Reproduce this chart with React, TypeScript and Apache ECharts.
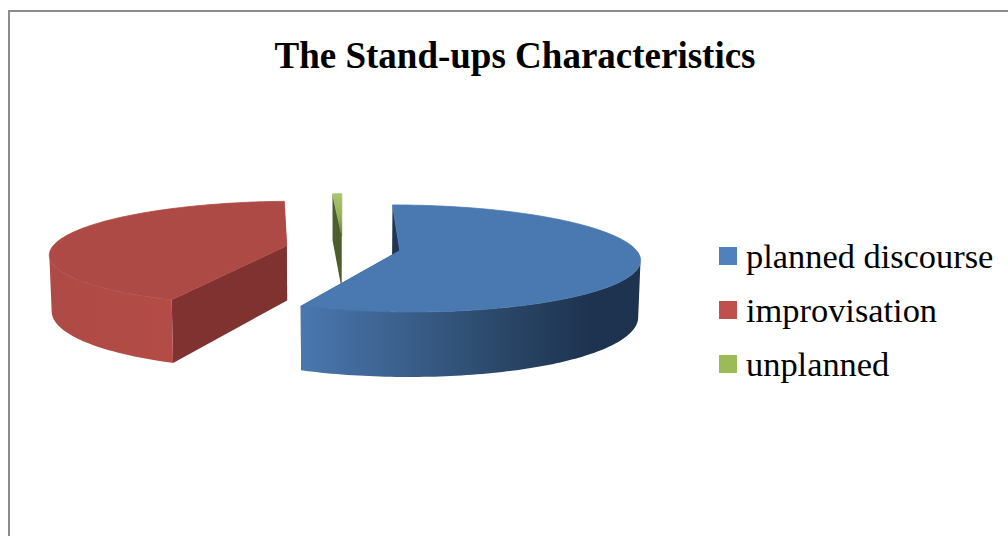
import React, { useEffect, useRef } from "react";
import * as echarts from "echarts";

const chartTitle = "The Stand-ups Characteristics";
const sliceNames = ["planned discourse", "improvisation", "unplanned"];
const sliceValues = [56.45, 42.8, 0.75];
const legendColors = ["#4F81BD", "#C0504D", "#9BBB59"];
const sliceDepthOrder = [3, 2, 1];

// Face colours per slice: top, cut wall, rim gradient stops and rim gradient x-range.
const topFills: any[] = ["#4A78B0", "#AE4A45", null];
const wallFills = ["#1F3550", "#803230", "#4D5D2B"];
const rimStops = [
  [
    [0, "#4A78B0"],
    [0.35, "#3B608C"],
    [0.7, "#2A4768"],
    [1, "#1E3350"],
  ],
  [
    [0, "#AE4A45"],
    [1, "#B34C47"],
  ],
  [
    [0, "#4D5D2B"],
    [1, "#4D5D2B"],
  ],
];
const rimRanges = [
  [298, 590],
  [50, 168],
  [332, 343],
];

// Perspective tilted-disc projection parameters.
const CX = 343;
const CY = 248;
const RX = 235;
const RY = 51.6;
const PERSPECTIVE = 0.1466;
const EXPLODE = 0.245;
const THICKNESS = 55;
const BOTTOM_SHRINK = 0.992;

const total = sliceValues.reduce((a, b) => a + b, 0);

function project(x: number, z: number, bottom: boolean) {
  const s = 1 / (1 - PERSPECTIVE * z);
  const shrink = bottom ? BOTTOM_SHRINK : 1;
  const sx = CX + RX * x * s * shrink;
  const sy = CY + RY * z * s + (bottom ? THICKNESS * s : 0);
  return [sx, sy];
}

function linear(x0: number, x1: number, y0: number, y1: number, stops: any[]) {
  return {
    type: "linear",
    global: true,
    x: x0,
    y: y0,
    x2: x1,
    y2: y1,
    colorStops: stops.map(([offset, color]) => ({ offset, color })),
  };
}

function renderSlice(index: number) {
  return (_params: any, api: any) => {
    const value = api.value(0);
    const before = sliceValues.slice(0, index).reduce((a, b) => a + b, 0);
    const start = (before / total) * Math.PI * 2;
    const end = start + (value / total) * Math.PI * 2;
    const mid = (start + end) / 2;
    const ox = EXPLODE * Math.sin(mid);
    const oz = -EXPLODE * Math.cos(mid);

    const rimPoint = (theta: number, bottom: boolean) =>
      project(ox + Math.sin(theta), oz - Math.cos(theta), bottom);
    const apex = (bottom: boolean) => project(ox, oz, bottom);

    const arc = (from: number, to: number, bottom: boolean) => {
      const steps = Math.max(4, Math.ceil((to - from) / 0.02));
      const pts: number[][] = [];
      for (let i = 0; i <= steps; i++) {
        pts.push(rimPoint(from + ((to - from) * i) / steps, bottom));
      }
      return pts;
    };

    // Silhouette angles of the disc: the rim is only seen between them, on the near side.
    let thetaRight = 0;
    let thetaLeft = 0;
    let maxX = -Infinity;
    let minX = Infinity;
    for (let i = 0; i < 720; i++) {
      const t = (i / 720) * Math.PI * 2;
      const [sx] = rimPoint(t, false);
      if (sx > maxX) {
        maxX = sx;
        thetaRight = t;
      }
      if (sx < minX) {
        minX = sx;
        thetaLeft = t;
      }
    }
    const rimFrom = Math.max(start, thetaRight);
    const rimTo = Math.min(end, thetaLeft);

    const wall = (theta: number) => ({
      type: "polygon",
      shape: {
        points: [apex(false), rimPoint(theta, false), rimPoint(theta, true), apex(true)],
      },
      style: { fill: wallFills[index] },
    });

    const children: any[] = [wall(start), wall(end)];

    if (rimTo > rimFrom) {
      const [gx0, gx1] = rimRanges[index];
      children.push({
        type: "polygon",
        shape: {
          points: [...arc(rimFrom, rimTo, false), ...arc(rimFrom, rimTo, true).reverse()],
        },
        style: { fill: linear(gx0, gx1, 0, 0, rimStops[index]) },
      });
    }

    const topFill =
      topFills[index] ??
      linear(0, 0, 194, 236, [
        [0, "#A9C86C"],
        [0.6, "#8FAD52"],
        [1, "#5F7534"],
      ]);
    // The hairline in the face's own colour closes the seam against the rim and walls.
    children.push({
      type: "polygon",
      shape: { points: [apex(false), ...arc(start, end, false)] },
      style: { fill: topFill, stroke: topFill, lineWidth: 0.8 },
    });

    return { type: "group", children };
  };
}

export default function App() {
  const ref = useRef<HTMLDivElement>(null);

  useEffect(() => {
    document.body.style.margin = "0";
    document.body.style.background = "#ffffff";
    const chart = echarts.init(ref.current!, undefined, { renderer: "svg" });
    chart.setOption({
      animation: false,
      backgroundColor: "#ffffff",
      color: legendColors,
      title: {
        text: chartTitle,
        left: 510,
        top: 32,
        textAlign: "center",
        textStyle: {
          fontFamily: "Liberation Serif",
          fontSize: 37,
          fontWeight: "bold",
          color: "#000000",
        },
      },
      legend: {
        orient: "vertical",
        left: 714,
        top: 234,
        itemWidth: 18,
        itemHeight: 18,
        itemGap: 20,
        icon: "rect",
        data: sliceNames,
        selectedMode: false,
        textStyle: {
          fontFamily: "Liberation Serif",
          fontSize: 34.4,
          color: "#000000",
          padding: [0, 0, 0, 4],
        },
      },
      graphic: [
        {
          type: "polyline",
          silent: true,
          shape: {
            points: [
              [9, 536],
              [9, 11],
              [1008, 11],
            ],
          },
          style: { stroke: "#8C8C8C", lineWidth: 2, fill: "none" },
        },
      ],
      series: sliceNames.map((name, i) => ({
        type: "custom",
        name,
        coordinateSystem: "none",
        silent: true,
        z: sliceDepthOrder[i],
        itemStyle: { color: legendColors[i] },
        data: [[sliceValues[i]]],
        renderItem: renderSlice(i),
      })),
    });
    return () => chart.dispose();
  }, []);

  return (
    <div
      ref={ref}
      style={{ position: "absolute", left: 0, top: 0, width: 1008, height: 536 }}
    />
  );
}
